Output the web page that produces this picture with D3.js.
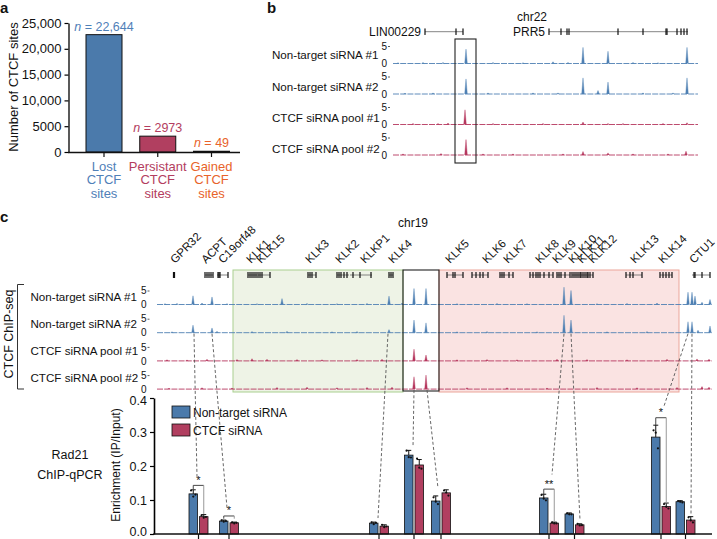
<!DOCTYPE html>
<html><head><meta charset="utf-8">
<script src="https://cdn.jsdelivr.net/npm/d3@7"></script>
<style>
body{margin:0;background:#fff;}
text{font-family:"Liberation Sans",Arial,Helvetica,sans-serif;fill:#111;}
</style></head><body>
<script>
// ================= DATA =================
// Panel a
const aCategories = ["Lost", "Persistant", "Gained"];
const aValues = [22644, 2973, 49];
const aValueLabels = ["22,644", "2973", "49"];
const aTickValues = [0, 5000, 10000, 15000, 20000, 25000];

// Panel b (relative genomic position, chr22)
const bTrackNames = ["Non-target siRNA #1", "Non-target siRNA #2", "CTCF siRNA pool #1", "CTCF siRNA pool #2"];
const bPeaks = [
  [[73,4.1],[190,4.6],[215,3.5],[294,4.6],[160,0.5],[5,0.2],[30,0.3],[50,0.3],[100,0.3],[130,0.2],[175,0.3],[240,0.3],[265,0.2]],
  [[73,4.3],[190,4.6],[205,1.0],[215,3.4],[294,4.6],[12,0.2],[40,0.3],[95,0.3],[140,0.3],[165,0.3],[250,0.3],[280,0.3]],
  [[72,4.2],[190,0.7],[215,0.3],[294,0.5],[20,0.3],[45,0.3],[55,0.4],[100,0.3],[150,0.3],[230,0.3],[270,0.3]],
  [[73,4.4],[190,1.0],[215,0.6],[293,1.1],[10,0.3],[48,0.4],[90,0.3],[120,0.3],[170,0.3],[240,0.3],[275,0.3]]
];
const bGenes = [
  {name:"LIN00229", start:32, end:70, exons:[32,63,70]},
  {name:"PRR5", start:156, end:295, exons:[156,168,174,176,225,250,273,274,284,288,291,294]}
];
const bBox = [62, 83];

// Panel c (relative genomic position, chr19)
const cTrackNames = bTrackNames;
const cPeaks = [
  [[36,3.1],[55,2.7],[125,2.1],[232,3],[257,5.7],[269,5.7],[407,6.2],[414,5],[531,4.4],[535,4.4],[538,3],[553,1.8],
   [8,0.3],[20,0.4],[45,0.5],[70,0.3],[100,0.3],[150,0.4],[180,0.3],[210,0.4],[245,0.5],[300,0.3],[340,0.4],[370,0.3],[440,0.3],[470,0.4],[500,0.5],[545,0.8]],
  [[36,2.7],[55,1.7],[232,1.1],[257,4.5],[269,3.5],[407,6.2],[414,4.5],[531,3.9],[535,3.9],[553,2.4],
   [15,0.3],[60,0.5],[95,0.4],[130,0.5],[175,0.3],[200,0.4],[300,0.3],[330,0.4],[380,0.3],[450,0.3],[490,0.4],[541,0.9]],
  [[257,4.2],[269,2.1],
   [10,0.4],[30,0.3],[50,0.6],[80,0.5],[95,0.8],[110,0.6],[140,0.5],[165,0.4],[200,0.5],[225,0.6],[300,0.4],[330,0.5],[360,0.4],[400,0.6],[430,0.5],[470,0.4],[510,0.6],[540,0.7],[552,0.6]],
  [[257,4.4],[269,5],
   [12,0.3],[45,0.5],[75,0.4],[120,0.6],[150,0.7],[180,0.5],[210,0.6],[235,0.7],[310,0.5],[350,0.5],[390,0.4],[440,0.6],[480,0.5],[520,0.6],[545,0.9],[552,0.7]]
];
const cGenes = [
  {name:"GPR32", start:16, end:18, exons:[16.5,17,17.5], label:18},
  {name:"ACPT", start:48, end:56, exons:[48,50,52,54,56], label:49},
  {name:"C19orf48", start:60, end:71, exons:[61,62,63,71], label:66},
  {name:"KLK1", start:91, end:100, exons:[91,93,95,97,99], label:94},
  {name:"KLK15", start:101, end:113, exons:[101,103,105,113], label:104},
  {name:"KLK3", start:151, end:159, exons:[151,153,155,159], label:153},
  {name:"KLK2", start:180, end:192, exons:[180,182,184,187,190], label:183},
  {name:"KLKP1", start:193, end:215, exons:[196,203,214], label:208},
  {name:"KLK4", start:232, end:236, exons:[232,234,236], label:236},
  {name:"KLK5", start:290, end:306, exons:[290,296,298,306], label:293},
  {name:"KLK6", start:315, end:331, exons:[315,319,323,326,331], label:330},
  {name:"KLK7", start:343, end:356, exons:[343,345,347,352,356], label:351},
  {name:"KLK8", start:373, end:396, exons:[373,376,379,381,383,387,392,396], label:383},
  {name:"KLK9", start:400, end:413, exons:[400,402,404,408,413], label:400},
  {name:"KLK10", start:415, end:423, exons:[415,417,419,421,423], label:416},
  {name:"KLK11", start:424, end:430, exons:[424,426,428,430], label:425},
  {name:"KLK12", start:431, end:436, exons:[431,433,436], label:436},
  {name:"KLK13", start:469, end:485, exons:[469,473,476,485], label:478},
  {name:"KLK14", start:503, end:515, exons:[503,506,509,512,515], label:506},
  {name:"CTU1", start:535, end:553, exons:[537,538,545,553], label:537}
];
const cBoxes = [
  {start:76, end:246, kind:"green"},
  {start:282, end:522, kind:"pink"},
  {start:246, end:282, kind:"black"}
];

// qPCR (Rad21 ChIP-qPCR) groups
const qPositions = [41.5, 72, 222, 257, 284, 392, 417.5, 504, 528.5];
const qNonTarget = [0.118, 0.038, 0.032, 0.232, 0.097, 0.106, 0.059, 0.285, 0.095];
const qCTCF      = [0.051, 0.033, 0.023, 0.203, 0.121, 0.032, 0.027, 0.081, 0.041];
const qNonTargetSD = [0.012, 0.003, 0.003, 0.014, 0.015, 0.011, 0.003, 0.035, 0.003];
const qCTCFSD      = [0.006, 0.002, 0.004, 0.016, 0.009, 0.003, 0.003, 0.010, 0.010];
const qNonTargetReps = [[0.128,0.110,0.116],[0.040,0.036,0.038],[0.034,0.029,0.033],[0.245,0.226,0.225],[0.108,0.095,0.088],[0.115,0.104,0.099],[0.061,0.058,0.058],[0.305,0.298,0.252],[0.097,0.095,0.093]];
const qCTCFReps = [[0.055,0.048,0.050],[0.034,0.031,0.033],[0.027,0.020,0.022],[0.222,0.195,0.192],[0.128,0.122,0.113],[0.034,0.031,0.031],[0.030,0.025,0.026],[0.088,0.080,0.075],[0.049,0.040,0.034]];
const qTicks = [0, 0.1, 0.2, 0.3, 0.4];
const qSignif = [
  {group:0, top:0.143, left:0.132, right:0.059, label:"*"},
  {group:1, top:0.053, left:0.045, right:0.045, label:"*"},
  {group:5, top:0.132, left:0.115, right:0.037, label:"**"},
  {group:7, top:0.342, left:0.320, right:0.090, label:"*"}
];
// dashed links: peak position on a track -> point above qPCR group
const qLinks = [
  {from:37, track:1, to:40, value:0.168},
  {from:55, track:1, to:70, value:0.077},
  {from:231, track:1, to:221, value:0.047},
  {from:257, track:3, to:256, value:0.255},
  {from:270, track:3, to:281, value:0.135},
  {from:407, track:1, to:395, value:0.175},
  {from:414, track:1, to:423, value:0.041},
  {from:531, track:1, to:507, value:0.376},
  {from:535, track:1, to:534, value:0.056}
];

// ================= STYLE =================
const COL = {blue:"#4b7aab", red:"#b13f60", orange:"#e2632c",
  tBlue:"#4f80b3", tRed:"#b5375e", txtBlue:"#4f80b8", txtRed:"#b33d60", txtOrange:"#e8632a"};
const aColors = [COL.blue, COL.red, COL.orange];
const aTextColors = [COL.txtBlue, COL.txtRed, COL.txtOrange];
const trackColors = [COL.tBlue, COL.tBlue, COL.tRed, COL.tRed];

const svg = d3.select("body").append("svg").attr("width",717).attr("height",539);

function letter(t,x,y){ svg.append("text").attr("x",x).attr("y",y).attr("font-size",15).attr("font-weight","bold").text(t); }
letter("a",0,13); letter("b",267,13); letter("c",0,222);

// ================= PANEL A =================
const ga = svg.append("g");
const ya = d3.scaleLinear().domain([0,25000]).range([152,23]);
const xa = d3.scalePoint().domain(aCategories).range([104,211.5]);
ga.append("g").attr("transform","translate(68.5,0)")
  .call(d3.axisLeft(ya).tickValues(aTickValues).tickSize(4).tickSizeOuter(0)
    .tickFormat(d => d >= 10000 ? d3.format(",")(d) : String(d)))
  .call(g => g.selectAll("text").attr("font-size",13).attr("fill","#111"))
  .call(g => g.select(".domain").attr("stroke-width",1.3))
  .call(g => g.selectAll(".tick line").attr("stroke-width",1.2));
ga.selectAll("rect.bar").data(aValues).join("rect").attr("class","bar")
  .attr("x",(d,i)=>xa(aCategories[i])-18).attr("width",36)
  .attr("y",d=>ya(d)-0.5).attr("height",d=>ya(0)-ya(d)+0.5)
  .attr("fill",(d,i)=>aColors[i]).attr("stroke","#111").attr("stroke-width",1);
ga.append("line").attr("x1",68).attr("x2",240).attr("y1",152.5).attr("y2",152.5).attr("stroke","#111").attr("stroke-width",1.3);
ga.selectAll("line.xt").data(aCategories).join("line").attr("class","xt")
  .attr("x1",d=>xa(d)).attr("x2",d=>xa(d)).attr("y1",152.5).attr("y2",157).attr("stroke","#111").attr("stroke-width",1.2);
aValues.forEach((v,i)=>{
  const t = ga.append("text").attr("x",xa(aCategories[i])).attr("y",ya(v)-4.5)
    .attr("text-anchor","middle").attr("font-size",12.5).style("fill",aTextColors[i]);
  t.append("tspan").attr("font-style","italic").text("n");
  t.append("tspan").text(" = " + aValueLabels[i]);
  const c = ga.append("text").attr("text-anchor","middle").attr("font-size",13).style("fill",aTextColors[i]);
  [aCategories[i],"CTCF","sites"].forEach((s,k)=>{
    c.append("tspan").attr("x",xa(aCategories[i])).attr("y",170.5+k*13.7).text(s);
  });
});
ga.append("text").attr("transform","translate(17.5,87) rotate(-90)").attr("text-anchor","middle")
  .attr("font-size",13).text("Number of CTCF sites");

// ================= TRACK HELPERS =================
function drawTrack(g, x, base, unitPx, peaks, color){
  const y = d3.scaleLinear().domain([0,5]).range([base, base-unitPx]);
  const [r0,r1] = x.range();
  g.append("line").attr("x1",r0).attr("x2",r1).attr("y1",base).attr("y2",base)
    .attr("stroke",color).attr("stroke-width",0.9).attr("stroke-dasharray","6,1.2");
  const area = d3.line();
  g.selectAll(null).data(peaks).join("path")
    .attr("d",d=>area([[x(d[0])-1.3,y(0)],[x(d[0]),y(d[1])],[x(d[0])+1.3,y(0)]]))
    .attr("fill",color).attr("stroke",color).attr("stroke-width",0.4);
  return y;
}
function trackAxis(g, xpos, y){
  g.append("g").attr("transform",`translate(${xpos},0)`)
    .call(d3.axisLeft(y).tickValues([0,5]).tickSize(2).tickPadding(1).tickFormat(d3.format("d")))
    .call(a=>a.select(".domain").remove())
    .call(a=>a.selectAll("text").attr("font-size",10).attr("fill","#111"))
    .call(a=>a.selectAll(".tick line").attr("stroke","#333").attr("stroke-width",0.8))
    .call(a=>a.selectAll(".tick").filter(d=>d===0).select("line").remove());
}
function drawGenes(g, x, yRow, genes, h){
  genes.forEach(gn=>{
    g.append("line").attr("x1",x(gn.start)).attr("x2",x(gn.end)).attr("y1",yRow).attr("y2",yRow)
      .attr("stroke","#666").attr("stroke-width",0.8);
    g.selectAll(null).data(gn.exons).join("rect")
      .attr("x",d=>x(d)-0.6).attr("width",1.2).attr("y",yRow-h/2).attr("height",h).attr("fill","#111");
  });
}

// ================= PANEL B =================
const gb = svg.append("g");
const xb = d3.scaleLinear().domain([0,305]).range([393,698]);
gb.append("text").attr("x",532).attr("y",21).attr("text-anchor","middle").attr("font-size",12).text("chr22");
drawGenes(gb, xb, 31.7, bGenes, 6.5);
bGenes.forEach(gn=>{
  gb.append("text").attr("x",xb(gn.start)-4).attr("y",36).attr("text-anchor","end").attr("font-size",12).text(gn.name);
});
bTrackNames.forEach((nm,i)=>{
  const base = 63.5 + i*30.5;
  const y = drawTrack(gb, xb, base, 17.5, bPeaks[i], trackColors[i]);
  trackAxis(gb, 390, y);
  gb.append("text").attr("x",272).attr("y",59.3+i*31.2).attr("font-size",11.6).text(nm);
});
gb.append("rect").attr("x",xb(bBox[0])).attr("width",xb(bBox[1])-xb(bBox[0]))
  .attr("y",39).attr("height",124).attr("fill","none").attr("stroke","#222").attr("stroke-width",1.1);

// ================= PANEL C =================
const gc = svg.append("g");
const xc = d3.scaleLinear().domain([0,555]).range([157,712]);
const boxTop = 270, boxBot = 392;
const boxStyle = {green:{fill:"#eef3e6",stroke:"#a9cf8f"}, pink:{fill:"#fae3e2",stroke:"#eba59a"}, black:{fill:"none",stroke:"#222"}};
cBoxes.filter(b=>b.kind!=="black").forEach(b=>{
  gc.append("rect").attr("x",xc(b.start)).attr("width",xc(b.end)-xc(b.start)).attr("y",boxTop).attr("height",boxBot-boxTop)
    .attr("fill",boxStyle[b.kind].fill).attr("stroke",boxStyle[b.kind].stroke).attr("stroke-width",1);
});
gc.append("text").attr("x",413).attr("y",227).attr("text-anchor","middle").attr("font-size",12).text("chr19");
drawGenes(gc, xc, 275, cGenes, 6);
cGenes.forEach(gn=>{
  gc.append("text").attr("transform",`translate(${xc(gn.label)},264) rotate(-45)`)
    .attr("font-size",11.5).text(gn.name);
});
const cY = [];
cTrackNames.forEach((nm,i)=>{
  const base = 304.5 + i*28.2;
  const y = drawTrack(gc, xc, base, 14, cPeaks[i], trackColors[i]);
  cY.push(y);
  trackAxis(gc, 149.5, y);
  gc.append("text").attr("x",30.5).attr("y",301+i*26.9).attr("font-size",11.6).text(nm);
});
cBoxes.filter(b=>b.kind==="black").forEach(b=>{
  gc.append("rect").attr("x",xc(b.start)).attr("width",xc(b.end)-xc(b.start)).attr("y",boxTop).attr("height",boxBot-boxTop-1)
    .attr("fill","none").attr("stroke","#222").attr("stroke-width",1.1);
});
gc.append("path").attr("d","M24,284.5H17.5V389H24").attr("fill","none").attr("stroke","#333").attr("stroke-width",1);
gc.append("text").attr("transform","translate(12.5,334) rotate(-90)").attr("text-anchor","middle")
  .attr("font-size",12.5).text("CTCF ChIP-seq");

// ---- qPCR bar chart ----
const yq = d3.scaleLinear().domain([0,0.4]).range([534,398]);
gc.append("g").attr("transform","translate(154,0)")
  .call(d3.axisLeft(yq).tickValues(qTicks).tickSize(4).tickSizeOuter(0).tickFormat(d3.format(".1f")))
  .call(a=>a.selectAll("text").attr("font-size",12.5).attr("fill","#111"))
  .call(a=>a.selectAll(".tick").filter(d=>d===0).select("text").attr("dy","0.1em"))
  .call(a=>a.selectAll(".tick").filter(d=>d===0.4).select("text").attr("dy","0.5em"))
  .call(a=>a.select(".domain").attr("stroke-width",1.6))
  .call(a=>a.selectAll(".tick line").attr("stroke-width",1.2));
gc.append("text").attr("transform","translate(120,465) rotate(-90)").attr("text-anchor","middle")
  .attr("font-size",12).text("Enrichment (IP/Input)");
gc.append("text").attr("x",70).attr("y",459).attr("text-anchor","middle").attr("font-size",12.5).text("Rad21");
gc.append("text").attr("x",70).attr("y",479).attr("text-anchor","middle").attr("font-size",12.5).text("ChIP-qPCR");

// dashed links
qLinks.forEach(l=>{
  gc.append("line").attr("x1",xc(l.from)).attr("y1",cY[l.track](0)+1)
    .attr("x2",xc(l.to)).attr("y2",yq(l.value))
    .attr("stroke","#555").attr("stroke-width",0.9).attr("stroke-dasharray","3,2.2");
});

const series = [
  {vals:qNonTarget, sd:qNonTargetSD, reps:qNonTargetReps, color:COL.blue, off:-5.25},
  {vals:qCTCF, sd:qCTCFSD, reps:qCTCFReps, color:COL.red, off:5.25}
];
series.forEach(s=>{
  gc.selectAll(null).data(s.vals).join("rect")
    .attr("x",(d,i)=>xc(qPositions[i])+s.off-4.25).attr("width",8.5)
    .attr("y",d=>yq(d)).attr("height",d=>yq(0)-yq(d))
    .attr("fill",s.color).attr("stroke","#111").attr("stroke-width",0.8);
  s.vals.forEach((v,i)=>{
    const cx = xc(qPositions[i])+s.off;
    gc.append("line").attr("x1",cx).attr("x2",cx).attr("y1",yq(v)).attr("y2",yq(v+s.sd[i])).attr("stroke","#111").attr("stroke-width",1);
    gc.append("line").attr("x1",cx-2.5).attr("x2",cx+2.5).attr("y1",yq(v+s.sd[i])).attr("y2",yq(v+s.sd[i])).attr("stroke","#111").attr("stroke-width",1);
    s.reps[i].forEach((r,k)=>{
      gc.append("circle").attr("cx",cx+(k-1)*2.2).attr("cy",yq(r)).attr("r",1.1).attr("fill","#111");
    });
  });
});
// x axis of bar chart
gc.append("line").attr("x1",153.2).attr("x2",712).attr("y1",534).attr("y2",534).attr("stroke","#111").attr("stroke-width",1.6);
gc.selectAll("line.qt").data(qPositions).join("line").attr("class","qt")
  .attr("x1",d=>xc(d)).attr("x2",d=>xc(d)).attr("y1",534).attr("y2",539).attr("stroke","#111").attr("stroke-width",1.2);

// significance brackets
qSignif.forEach(s=>{
  const xl = xc(qPositions[s.group])-5.25, xr = xc(qPositions[s.group])+5.25;
  gc.append("path").attr("d",`M${xl},${yq(s.left)}V${yq(s.top)}H${xr}`).attr("fill","none").attr("stroke","#333").attr("stroke-width",0.9);
  gc.append("line").attr("x1",xr).attr("x2",xr).attr("y1",yq(s.top)).attr("y2",yq(s.right)).attr("stroke","#999").attr("stroke-width",1);
  gc.append("text").attr("x",(xl+xr)/2).attr("y",yq(s.top)-1.5).attr("text-anchor","middle").attr("font-size",11).text(s.label);
});

// legend
const legend = [["Non-target siRNA", COL.blue],["CTCF siRNA", COL.red]];
legend.forEach((l,i)=>{
  gc.append("rect").attr("x",172).attr("y",406+i*18).attr("width",18).attr("height",12)
    .attr("fill",l[1]).attr("stroke","#111").attr("stroke-width",0.8);
  gc.append("text").attr("x",193).attr("y",416.5+i*18).attr("font-size",12).text(l[0]);
});
</script>
</body></html>
